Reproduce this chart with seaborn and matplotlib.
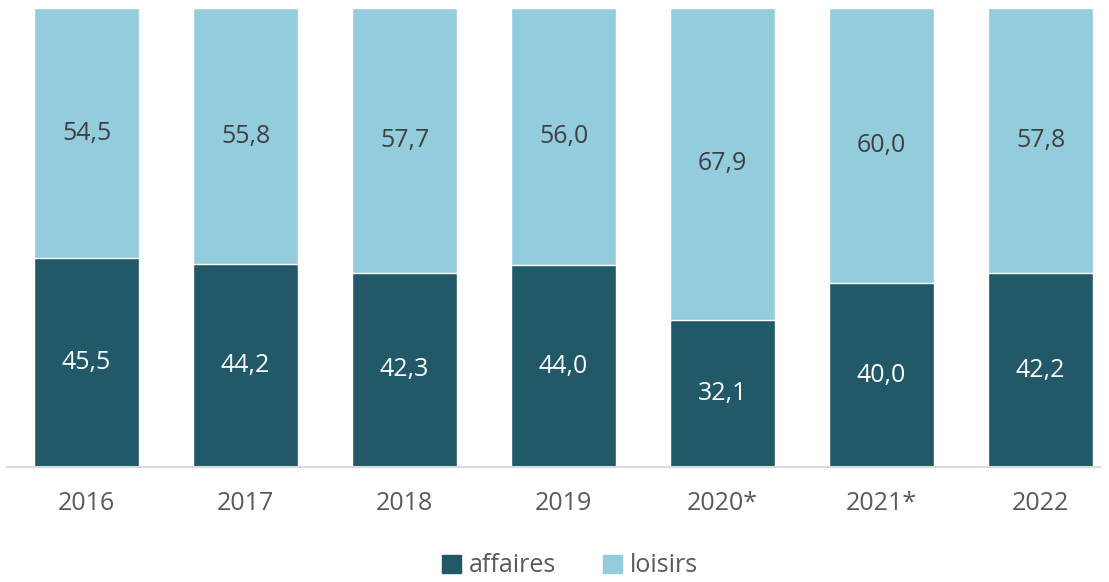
import pandas as pd
import matplotlib
matplotlib.use("Agg")
import matplotlib.pyplot as plt
import seaborn as sns
from matplotlib.patches import Patch

years = ["2016", "2017", "2018", "2019", "2020*", "2021*", "2022"]
affaires = [45.5, 44.2, 42.3, 44.0, 32.1, 40.0, 42.2]
loisirs = [54.5, 55.8, 57.7, 56.0, 67.9, 60.0, 57.8]

dark = "#215968"
light = "#93CDDD"

sns.set_theme(style="white")
plt.rcParams["font.family"] = ["Open Sans", "DejaVu Sans"]

df = pd.DataFrame({"year": years, "affaires": affaires, "loisirs": loisirs})
df["total"] = df["affaires"] + df["loisirs"]

fig = plt.figure(figsize=(11.09, 5.82), dpi=100)
ax = fig.add_axes([7 / 1109, 115 / 582, (1100 - 7) / 1109, (467 - 8) / 582])

sns.barplot(data=df, x="year", y="total", color=light, width=0.66,
            saturation=1, ax=ax)
sns.barplot(data=df, x="year", y="affaires", color=dark, width=0.66,
            saturation=1, ax=ax)

# segment labels with French decimal comma
for i, (a, l) in enumerate(zip(affaires, loisirs)):
    ax.text(i, a / 2, f"{a:.1f}".replace(".", ","), ha="center", va="center",
            color="white", fontsize=18)
    ax.text(i, a + l / 2, f"{l:.1f}".replace(".", ","), ha="center", va="center",
            color="#404040", fontsize=18)

ax.set_ylim(0, 100)
ax.set_xlim(-0.5, 6.374)
ax.set_xlabel("")
ax.set_ylabel("")
ax.set_yticks([])
for s in ["top", "left", "right"]:
    ax.spines[s].set_visible(False)
ax.spines["bottom"].set_color("#D9D9D9")
ax.spines["bottom"].set_linewidth(1.5)
ax.tick_params(axis="x", length=0, pad=17, labelsize=18, labelcolor="#595959")

handles = [Patch(color=dark, label="affaires"), Patch(color=light, label="loisirs")]
fig.legend(handles=handles, loc="center", bbox_to_anchor=(570 / 1109, 1 - 566 / 582),
           ncol=2, frameon=False, fontsize=18, labelcolor="#595959",
           handlelength=0.75, handleheight=0.75, handletextpad=0.3, columnspacing=1.9)

fig.savefig("out.png", dpi=100)
